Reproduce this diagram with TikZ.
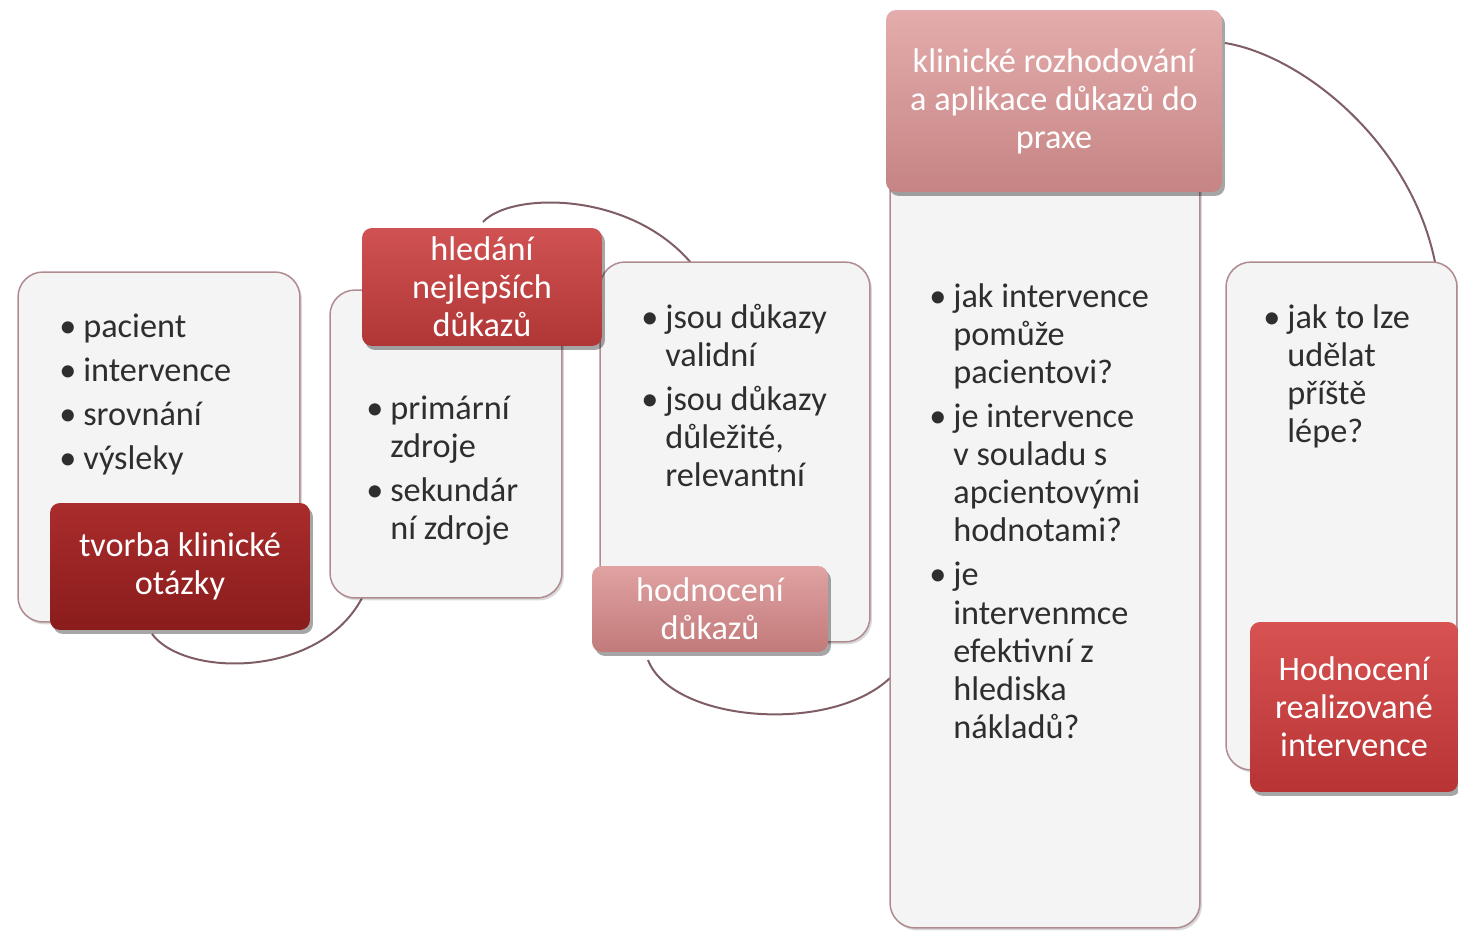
\documentclass[tikz,border=0pt]{standalone}
\usepackage{fontspec}
\setmainfont{Carlito}
\usetikzlibrary{shadows}
\definecolor{boxfill}{HTML}{F4F4F4}
\definecolor{boxline}{HTML}{B08C90}
\definecolor{arcline}{HTML}{7E5E64}
\definecolor{txt}{HTML}{2E2E2E}
\definecolor{tAt}{HTML}{AA2C2C}\definecolor{tAb}{HTML}{8A1C1C}
\definecolor{tBt}{HTML}{D05252}\definecolor{tBb}{HTML}{B03636}
\definecolor{tCt}{HTML}{E0A2A2}\definecolor{tCb}{HTML}{C27A7A}
\definecolor{tDt}{HTML}{E4ACAC}\definecolor{tDb}{HTML}{C68484}
\definecolor{tEt}{HTML}{D85252}\definecolor{tEb}{HTML}{B83434}
\newcommand{\fsz}{\fontsize{19.5}{21.7}\selectfont}
\newcommand{\bit}[1]{\noindent\hangindent=0.48cm\hangafter=1\makebox[0.48cm][l]{\textbullet}#1\par}
\newcommand{\blist}[1]{\begin{minipage}[t]{7cm}\setlength{\parskip}{0.12cm}\fsz#1\end{minipage}}
\tikzset{
  panel/.style={draw=boxline, fill=boxfill, line width=0.03cm, rounded corners=0.5cm, inner sep=0,
    drop shadow={shadow xshift=0.04cm, shadow yshift=-0.05cm, opacity=0.15, fill=black}},
  title/.style={rounded corners=0.2cm, inner sep=0, text=white, align=center, font=\fsz,
    drop shadow={shadow xshift=0.06cm, shadow yshift=-0.08cm, opacity=0.35, fill=black}},
  bullets/.style={text=txt, anchor=base west, inner sep=0, font=\fsz},
  arc/.style={draw=arcline, line width=0.04cm},
}
\begin{document}
\begin{tikzpicture}[x=0.02cm,y=-0.02cm]
\fill[white] (0,0) rectangle (1458,933);
\useasboundingbox (0,0) rectangle (1458,933);
\clip (0,0) rectangle (1458,933);
% arcs
\coordinate (a1s) at (152,634); \coordinate (a1e) at (362,598);
\coordinate (a2s) at (483,222); \coordinate (a2e) at (692,264);
\coordinate (a3s) at (648,660); \coordinate (a3e) at (890,678);
\coordinate (a4s) at (1225,43); \coordinate (a4e) at (1435,262);
\draw[arc] (a1s) .. controls (185,678) and (320,678) .. (a1e);
\draw[arc] (a2s) .. controls (510,192) and (630,190) .. (a2e);
\draw[arc] (a3s) .. controls (672,722) and (830,735) .. (a3e);
\draw[arc] (a4s) .. controls (1300,55) and (1410,140) .. (a4e);
% panels
\node[panel, minimum width=5.64cm, minimum height=7.00cm] (p1) at (159,447) {};
\node[panel, minimum width=4.64cm, minimum height=6.16cm] (p2) at (446,444) {};
\node[panel, minimum width=5.40cm, minimum height=7.60cm] (p3) at (735,452) {};
\node[panel, minimum width=6.20cm, minimum height=15.56cm] (p4) at (1045,539) {};
\node[panel, minimum width=4.62cm, minimum height=10.16cm] (p5) at (1341.5,516) {};
% titles
\node[title, top color=tAt, bottom color=tAb, minimum width=5.20cm, minimum height=2.54cm] (t1) at (180,566.5) {tvorba klinické\\otázky};
\node[title, top color=tBt, bottom color=tBb, minimum width=4.80cm, minimum height=2.36cm] (t2) at (482,287) {hledání\\nejlepších\\důkazů};
\node[title, top color=tCt, bottom color=tCb, minimum width=4.72cm, minimum height=1.72cm] (t3) at (710,609) {hodnocení\\důkazů};
\node[title, top color=tDt, bottom color=tDb, minimum width=6.72cm, minimum height=3.64cm] (t4) at (1054,101) {klinické rozhodování\\a aplikace důkazů do\\praxe};
\node[title, top color=tEt, bottom color=tEb, minimum width=4.16cm, minimum height=3.40cm] (t5) at (1354,707) {Hodnocení\\realizované\\intervence};
% bullet texts
\node[bullets] (b1) at (59,337) {\blist{\bit{pacient}\bit{intervence}\bit{srovnání}\bit{výsleky}}};
\node[bullets] (b2) at (366,419) {\blist{\bit{primární\\zdroje}\bit{sekundár\\ní zdroje}}};
\node[bullets] (b3) at (641,328) {\blist{\bit{jsou důkazy\\validní}\bit{jsou důkazy\\důležité,\\relevantní}}};
\node[bullets] (b4) at (929,307) {\blist{\bit{jak intervence\\pomůže\\pacientovi?}\bit{je intervence\\v souladu s\\apcientovými\\hodnotami?}\bit{je\\intervenmce\\efektivní z\\hlediska\\nákladů?}}};
\node[bullets] (b5) at (1263,328) {\blist{\bit{jak to lze\\udělat\\příště\\lépe?}}};
\end{tikzpicture}
\end{document}
